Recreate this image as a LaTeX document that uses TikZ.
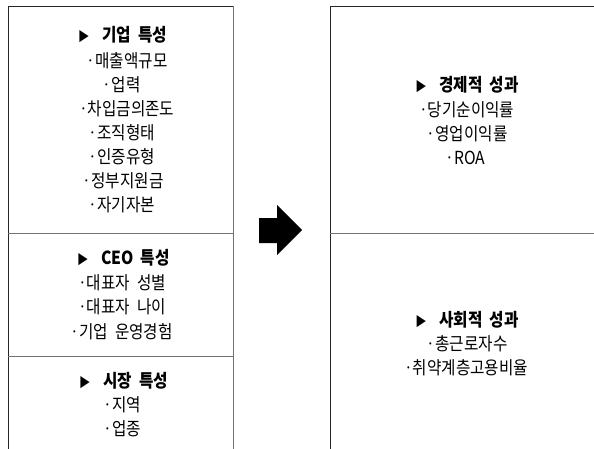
\documentclass[tikz,border=0pt]{standalone}
\usepackage{fontspec}
\setmainfont{Noto Sans CJK KR}
\newfontfamily\kr[FakeStretch=0.87,WordSpace=2]{Noto Sans CJK KR}
\newcommand{\bul}{\makebox[0.5em][c]{ㆍ}}
\newcommand{\tri}{{\fontsize{13}{14}\selectfont ▶}\hspace{0.7em}}
\begin{document}
\begin{tikzpicture}[x=1pt,y=-1pt,
  txt/.style={inner sep=0pt,anchor=center,font=\kr\fontsize{18}{20}\selectfont},
  ttl/.style={txt,font=\kr\bfseries\fontsize{18}{20}\selectfont},
  frame/.style={line width=1pt,draw=black!85},
  grayline/.style={line width=1pt,draw=black!55}]
\useasboundingbox (0,0) rectangle (594,449);
% left column
\coordinate (lt1) at (8,6.5); \coordinate (lt2) at (233,6.5);
\coordinate (lb1) at (8,449); \coordinate (lb2) at (233,449);
\draw[frame] (lb1) -- (lt1) -- (lt2);
\draw[grayline] (lt2) -- (lb2);
\coordinate (d1a) at (8,233); \coordinate (d1b) at (233,233);
\coordinate (d2a) at (8,356); \coordinate (d2b) at (233,356);
\draw[grayline] (d1a) -- (d1b);
\draw[grayline] (d2a) -- (d2b);
% right column
\coordinate (rt1) at (330,6.5); \coordinate (rt2) at (594,6.5);
\coordinate (rb1) at (330,449);
\draw[frame] (rb1) -- (rt1) -- (rt2);
\coordinate (r1a) at (330,233); \coordinate (r1b) at (594,233);
\draw[grayline] (r1a) -- (r1b);
% arrow
\fill[black] (259,218) -- (277,218) -- (277,205) -- (302,230) -- (277,255) -- (277,243) -- (259,243) -- cycle;
% left texts
\node[ttl] (a0) at (122.5,35) {\tri 기업 특성};
\node[txt] (a1) at (127,61) {\bul 매출액규모};
\node[txt] (a2) at (121.5,85) {\bul 업력};
\node[txt] (a3) at (126.5,109) {\bul 차입금의존도};
\node[txt] (a4) at (121.5,133) {\bul 조직형태};
\node[txt] (a5) at (121.5,157) {\bul 인증유형};
\node[txt] (a6) at (123,181) {\bul 정부지원금};
\node[txt] (a7) at (121.5,205) {\bul 자기자본};
\node[ttl] (b0) at (123.5,258) {\tri CEO 특성};
\node[txt] (b1) at (122,283) {\bul 대표자 성별};
\node[txt] (b2) at (122,307) {\bul 대표자 나이};
\node[txt] (b3) at (121.5,332) {\bul 기업 운영경험};
\node[ttl] (c0) at (123.5,381) {\tri 시장 특성};
\node[txt] (c1) at (122,405) {\bul 지역};
\node[txt] (c2) at (122,429) {\bul 업종};
% right texts
\node[ttl] (e0) at (467,85) {\tri 경제적 성과};
\node[txt] (e1) at (466.5,110) {\bul 당기순이익률};
\node[txt] (e2) at (467,134) {\bul 영업이익률};
\node[txt] (e3) at (465,158) {\bul ROA};
\node[ttl] (s0) at (467,320) {\tri 사회적 성과};
\node[txt] (s1) at (467,344) {\bul 총근로자수};
\node[txt] (s2) at (466,368) {\bul 취약계층고용비율};
\end{tikzpicture}
\end{document}
